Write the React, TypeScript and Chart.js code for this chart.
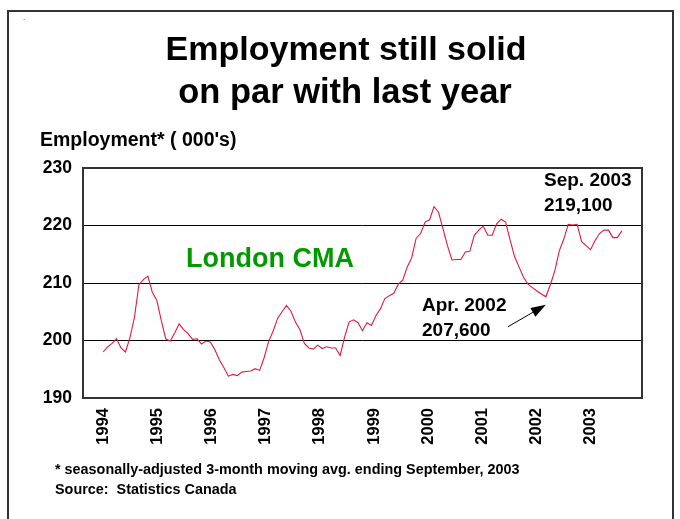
import React, { useEffect, useRef } from 'react';
import { Chart, registerables } from 'chart.js';

Chart.register(...registerables);

// ---- data ----
const yearLabels = ['1994', '1995', '1996', '1997', '1998', '1999', '2000', '2001', '2002', '2003'];
const yTickValues = [190, 200, 210, 220, 230];
// monthly employment ('000s), Jan 1994 .. Sep 2003
const employment = [
  198.0, 198.9, 199.5, 200.3, 198.7, 198.0, 200.5, 204.0, 209.7, 210.6, 211.2, 208.4,
  207.0, 203.5, 200.3, 199.9, 201.3, 202.9, 201.9, 201.2, 200.2, 200.3, 199.4, 199.9,
  199.7, 198.4, 196.6, 195.3, 193.8, 194.1, 193.9, 194.5, 194.6, 194.7, 195.1, 194.8,
  197.0, 199.8, 201.6, 203.8, 205.0, 206.1, 205.1, 203.2, 201.9, 199.5, 198.7, 198.5,
  199.2, 198.6, 198.9, 198.7, 198.7, 197.4, 200.6, 203.2, 203.6, 203.1, 201.7, 203.1,
  202.6, 204.3, 205.5, 207.3, 207.8, 208.2, 209.8, 210.5, 212.8, 214.4, 217.8, 218.6,
  220.6, 221.0, 223.3, 222.3, 219.4, 216.5, 214.0, 214.1, 214.1, 215.4, 215.5, 218.3,
  219.2, 219.9, 218.3, 218.3, 220.3, 221.1, 220.6, 217.5, 214.6, 212.8, 211.0, 209.8,
  209.2, 208.6, 208.1, 207.6, 209.7, 212.1, 215.6, 217.6, 220.2, 220.1, 220.2, 217.2,
  216.5, 215.8, 217.4, 218.6, 219.2, 219.2, 217.9, 217.9, 219.1,
];
const lowPointIndex = 99; // Apr. 2002
const labelStepMonths = 12.12; // spacing of the year labels on the original axis

const FONT = '"Liberation Sans", Arial, Helvetica, sans-serif';

const framePlugin = {
  id: 'frameAndArrow',
  afterDatasetsDraw(chart: any) {
    const { ctx, chartArea: a, scales } = chart;
    ctx.save();
    ctx.strokeStyle = '#333';
    ctx.lineWidth = 2;
    ctx.strokeRect(a.left, a.top, a.right - a.left, a.bottom - a.top);

    // arrow pointing at the April 2002 low
    const px = scales.x.getPixelForValue(lowPointIndex);
    const py = scales.y.getPixelForValue(employment[lowPointIndex]);
    const tipX = px;
    const tipY = py + 8;
    const sx = tipX - 38;
    const sy = tipY + 22;
    const ang = Math.atan2(tipY - sy, tipX - sx);
    const headLen = 15;
    const headW = 5;
    const bx = tipX - headLen * Math.cos(ang);
    const by = tipY - headLen * Math.sin(ang);
    ctx.strokeStyle = '#000';
    ctx.lineWidth = 1;
    ctx.beginPath();
    ctx.moveTo(sx, sy);
    ctx.lineTo(bx, by);
    ctx.stroke();
    ctx.fillStyle = '#000';
    ctx.beginPath();
    ctx.moveTo(tipX, tipY);
    ctx.lineTo(bx + headW * Math.sin(ang), by - headW * Math.cos(ang));
    ctx.lineTo(bx - headW * Math.sin(ang), by + headW * Math.cos(ang));
    ctx.closePath();
    ctx.fill();
    ctx.restore();
  },
};

export default function App() {
  const canvasRef = useRef<HTMLCanvasElement>(null);

  useEffect(() => {
    document.body.style.margin = '0';
    const chart = new Chart(canvasRef.current as HTMLCanvasElement, {
      type: 'line',
      data: {
        datasets: [
          {
            data: employment.map((v, i) => ({ x: i, y: v })),
            borderColor: 'rgb(226,24,64)',
            borderWidth: 1.1,
            pointRadius: 0,
            tension: 0,
            fill: false,
          },
        ],
      },
      options: {
        responsive: false,
        animation: false,
        events: [],
        layout: { padding: { left: 0, top: 168, right: 38, bottom: 0 } },
        plugins: { legend: { display: false }, tooltip: { enabled: false }, title: { display: false } },
        scales: {
          x: {
            type: 'linear',
            min: -4.5,
            max: 120.5,
            afterBuildTicks: (scale: any) => {
              scale.ticks = yearLabels.map((_, i) => ({ value: i * labelStepMonths }));
            },
            afterFit: (scale: any) => {
              scale.height = 121;
            },
            grid: { display: false, drawTicks: false },
            border: { display: false },
            ticks: {
              autoSkip: false,
              minRotation: 90,
              maxRotation: 90,
              padding: 10,
              color: '#000',
              font: { family: FONT, size: 16.5, weight: 'bold' },
              callback: (_v: any, i: number) => yearLabels[i],
            },
          },
          y: {
            min: 190,
            max: 230,
            afterBuildTicks: (scale: any) => {
              scale.ticks = yTickValues.map((v) => ({ value: v }));
            },
            afterFit: (scale: any) => {
              scale.width = 83;
            },
            grid: { color: '#000', lineWidth: 1, drawTicks: false },
            border: { display: false },
            ticks: {
              padding: 11,
              color: '#000',
              font: { family: FONT, size: 17.5, weight: 'bold' },
            },
          },
        },
      },
      plugins: [framePlugin],
    } as any);
    return () => chart.destroy();
  }, []);

  const abs = (left: number, top: number, size: number, extra: any = {}) => ({
    position: 'absolute' as const,
    left,
    top,
    fontSize: size,
    lineHeight: `${size}px`,
    fontWeight: 'bold' as const,
    whiteSpace: 'pre' as const,
    color: '#000',
    ...extra,
  });

  return (
    <div
      style={{
        position: 'relative',
        width: 680,
        height: 519,
        overflow: 'hidden',
        background: '#fff',
        fontFamily: FONT,
      }}
    >
      <div
        style={{
          position: 'absolute',
          left: 7,
          top: 10,
          width: 663,
          height: 560,
          border: '2px solid #333',
        }}
      />
      <canvas
        ref={canvasRef}
        width={680}
        height={519}
        style={{ position: 'absolute', left: 0, top: 0, width: 680, height: 519 }}
      />
      <div style={abs(23, 14, 8, { fontWeight: 'normal' })}>.</div>
      <div style={abs(0, 31, 34, { width: 692, textAlign: 'center' })}>Employment still solid</div>
      <div style={abs(0, 74, 34.5, { width: 690, textAlign: 'center' })}>on par with last year</div>
      <div style={abs(40, 130, 19.5)}>Employment* ( 000's)</div>
      <div style={abs(186, 245, 27, { color: '#009a00' })}>London CMA</div>
      <div style={abs(544, 170, 19)}>Sep. 2003</div>
      <div style={abs(544, 195, 19)}>219,100</div>
      <div style={abs(422, 295, 19)}>Apr. 2002</div>
      <div style={abs(422, 320, 19)}>207,600</div>
      <div style={abs(55, 462, 14.4)}>* seasonally-adjusted 3-month moving avg. ending September, 2003</div>
      <div style={abs(55, 482, 14.4)}>Source:  Statistics Canada</div>
    </div>
  );
}
